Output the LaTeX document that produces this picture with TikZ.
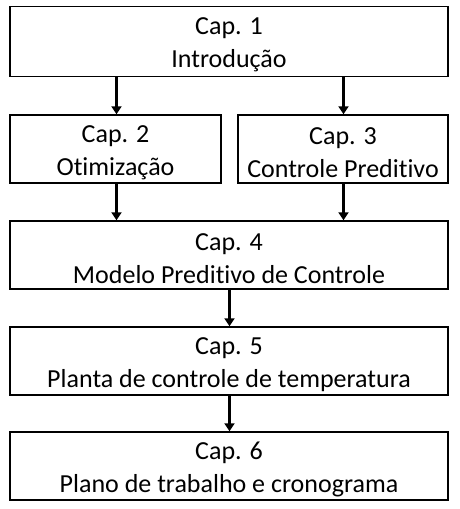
\documentclass[tikz,border=0pt]{standalone}
\usepackage{fontspec}
\setmainfont{Carlito}[Ligatures=NoCommon]
\usetikzlibrary{arrows.meta}
\begin{document}
\begin{tikzpicture}[x=1pt,y=-1pt,
  box/.style={draw=black,line width=1.4pt,inner sep=0pt},
  txt/.style={inner sep=0pt,align=center,yshift=-3.5pt,
    font=\fontsize{26}{33}\selectfont},
  arr/.style={line width=2.6pt,-{Triangle[length=8pt,width=10pt]}}]
\useasboundingbox (0,0) rectangle (459,509);
\node[box,minimum width=438pt,minimum height=70pt] (c1) at (229,41.5) {};
\node[box,minimum width=211pt,minimum height=68pt] (c2) at (115.5,149) {};
\node[box,minimum width=210pt,minimum height=68pt] (c3) at (343,149) {};
\node[box,minimum width=438pt,minimum height=68pt] (c4) at (229,255) {};
\node[box,minimum width=438pt,minimum height=68pt] (c5) at (229,361) {};
\node[box,minimum width=438pt,minimum height=68pt] (c6) at (229,466) {};
\node[txt] (t1) at (c1.center) {Cap. 1\\Introdução};
\node[txt] (t2) at (c2.center) {Cap. 2\\Otimização};
\node[txt] (t3) at (c3.center) {Cap. 3\\Controle Preditivo};
\node[txt] (t4) at (c4.center) {Cap. 4\\Modelo Preditivo de Controle};
\node[txt] (t5) at (c5.center) {Cap. 5\\Planta de controle de temperatura};
\node[txt] (t6) at (c6.center) {Cap. 6\\Plano de trabalho e cronograma};
\draw[arr] (c1.south -| 116.5,0) -- (c2.north -| 116.5,0);
\draw[arr] (c1.south -| 343.5,0) -- (c3.north -| 343.5,0);
\draw[arr] (c2.south -| 116.5,0) -- (c4.north -| 116.5,0);
\draw[arr] (c3.south -| 343.5,0) -- (c4.north -| 343.5,0);
\draw[arr] (c4.south -| 229.5,0) -- (c5.north -| 229.5,0);
\draw[arr] (c5.south -| 229.5,0) -- (c6.north -| 229.5,0);
\end{tikzpicture}
\end{document}
